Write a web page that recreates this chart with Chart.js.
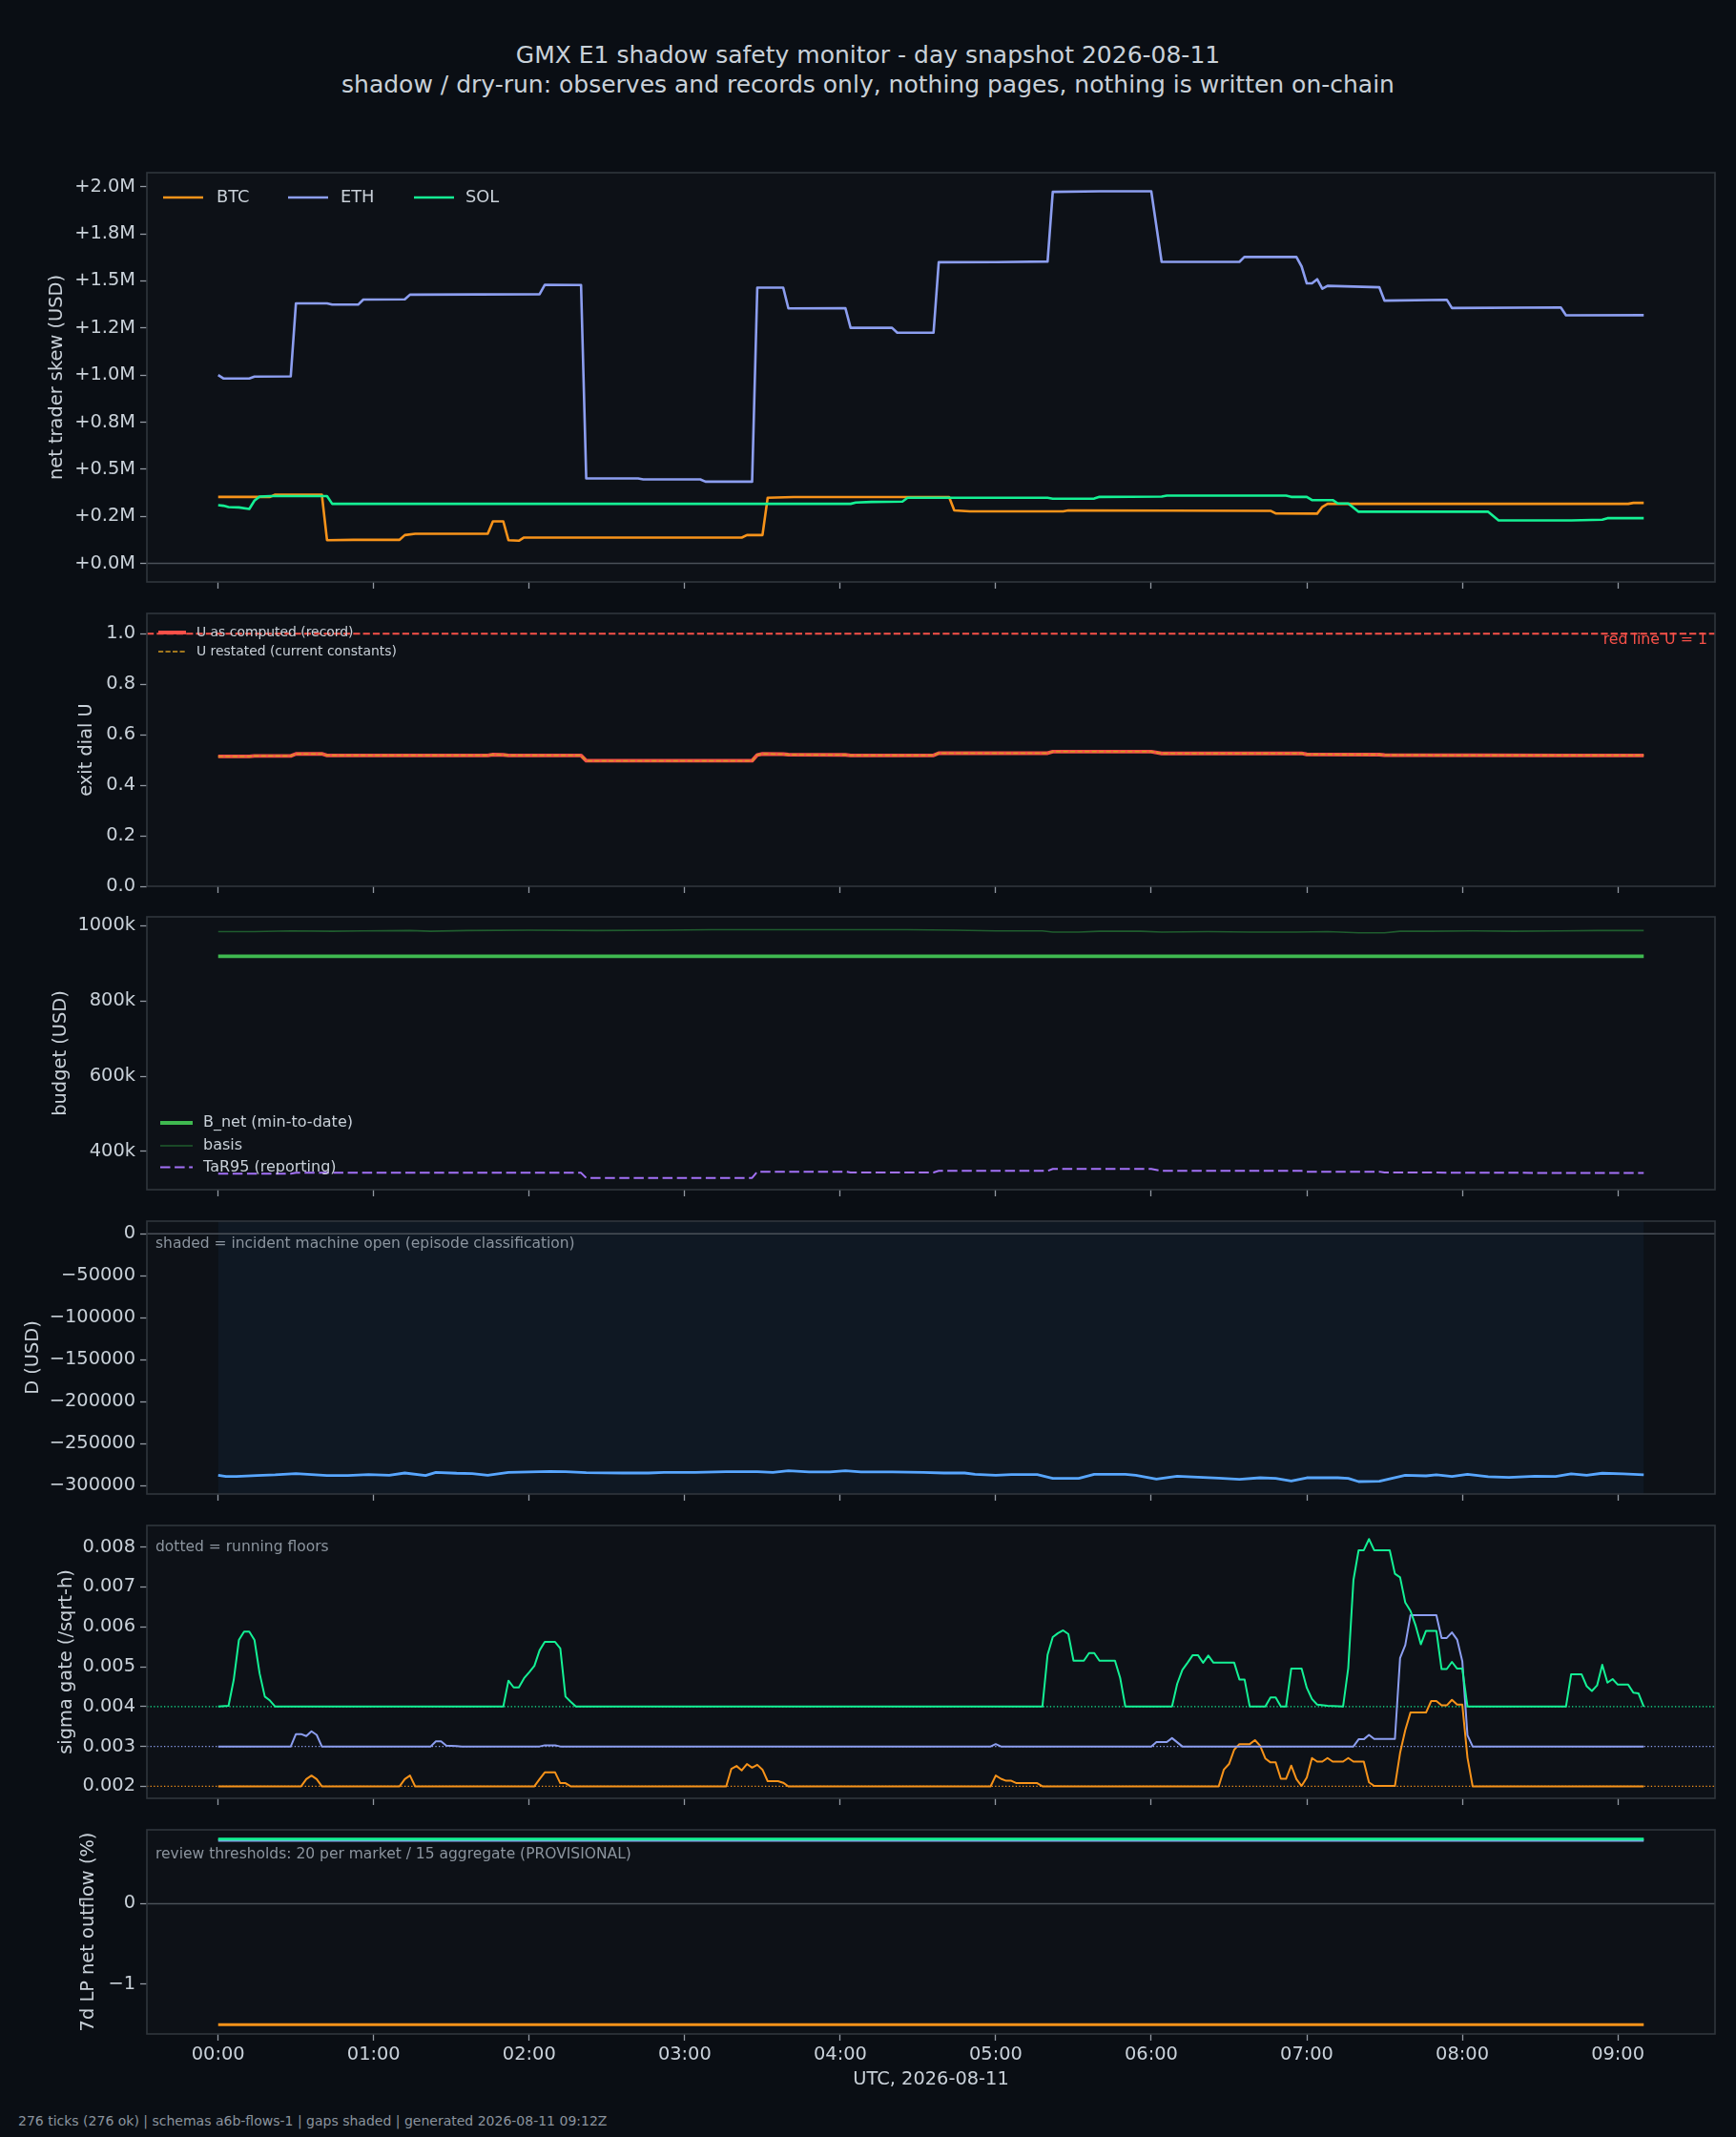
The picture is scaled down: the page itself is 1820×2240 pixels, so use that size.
<!DOCTYPE html>
<html>
<head>
<meta charset="utf-8">
<script src="https://cdn.jsdelivr.net/npm/chart.js@4.4.1/dist/chart.umd.min.js"></script>
<style>
  html, body { margin: 0; padding: 0; background: #0a0e14; }
  #page { position: relative; width: 1820px; height: 2240px; overflow: hidden; font-family: "DejaVu Sans", sans-serif; }
  #page canvas { position: absolute; left: 0; }
  .title { position: absolute; left: 0; top: 42px; width: 1820px; text-align: center; color: #c9d1d9; font-size: 25px; line-height: 31px; }
  .foot { position: absolute; left: 19px; top: 2215px; color: #8b949e; font-size: 14px; line-height: 17px; }
</style>
</head>
<body>
<div id="page">
  <div class="title">GMX E1 shadow safety monitor - day snapshot 2026-08-11<br>shadow / dry-run: observes and records only, nothing pages, nothing is written on-chain</div>
  <div class="foot">276 ticks (276 ok) | schemas a6b-flows-1 | gaps shaded | generated 2026-08-11 09:12Z</div>
</div>
<script>
// ---- data (x = minutes after 00:00 UTC, one tick every 2 min) ----
const X_TICKS = [0, 60, 120, 180, 240, 300, 360, 420, 480, 540];
const X_LABELS = ['00:00', '01:00', '02:00', '03:00', '04:00', '05:00', '06:00', '07:00', '08:00', '09:00'];
const X_TITLE = 'UTC, 2026-08-11';

// net trader skew, USD
const BTC_SKEW = [[0,353000],[20,353000],[22,365000],[40,365000],[42,123000],[52,125000],[70,125000],[72,150000],[76,157000],[104,157000],[106,223000],[110,223000],[112,123000],[116,120000],[118,137000],[202,137000],[204,150000],[210,150000],[212,348000],[222,352000],[282,352000],[284,281000],[290,276000],[326,276000],[328,281000],[406,279000],[408,265000],[424,264000],[426,300000],[428,316000],[544,316000],[546,321000],[550,321000]];
const ETH_SKEW = [[0,1000000],[2,982000],[12,982000],[14,992000],[28,993000],[30,1381000],[42,1381000],[44,1374000],[54,1374000],[56,1401000],[72,1402000],[74,1427000],[100,1428000],[124,1429000],[126,1479000],[140,1478000],[142,451000],[162,451000],[164,446000],[186,446000],[188,434000],[206,434000],[208,1464000],[218,1464000],[220,1354000],[242,1355000],[244,1251000],[260,1251000],[262,1225000],[276,1225000],[278,1599000],[300,1600000],[320,1603000],[322,1973000],[340,1976000],[360,1976000],[364,1601000],[394,1601000],[396,1628000],[416,1627000],[418,1577000],[420,1487000],[422,1487000],[424,1509000],[426,1459000],[428,1474000],[448,1466000],[450,1395000],[474,1400000],[476,1356000],[518,1359000],[520,1317000],[550,1318000]];
const SOL_SKEW = [[0,309000],[2,306000],[4,299000],[8,297000],[12,289000],[14,333000],[16,355000],[20,357000],[42,357000],[44,316000],[244,316000],[246,323000],[252,326000],[264,328000],[266,348000],[320,348000],[322,343000],[338,344000],[340,353000],[364,355000],[366,360000],[412,360000],[414,353000],[420,353000],[422,336000],[430,336000],[432,318000],[436,318000],[440,274000],[490,274000],[494,228000],[522,228000],[534,232000],[536,240000],[550,240000]];
const SKEW_TICKS = [0, 250000, 500000, 750000, 1000000, 1250000, 1500000, 1750000, 2000000];
const SKEW_LABELS = ['+0.0M', '+0.2M', '+0.5M', '+0.8M', '+1.0M', '+1.2M', '+1.5M', '+1.8M', '+2.0M'];

// exit dial U (computed and restated agree)
const U_DIAL = [[0,0.514],[12,0.514],[14,0.516],[28,0.516],[30,0.524],[40,0.524],[42,0.518],[104,0.518],[106,0.521],[110,0.520],[112,0.518],[140,0.518],[142,0.497],[206,0.497],[208,0.520],[210,0.524],[218,0.523],[220,0.521],[242,0.520],[244,0.518],[276,0.518],[278,0.527],[320,0.527],[322,0.533],[360,0.533],[364,0.526],[418,0.526],[420,0.522],[448,0.521],[450,0.519],[520,0.518],[550,0.518]];
const U_RED_LINE = 1.0;
const U_TICKS = [0, 0.2, 0.4, 0.6, 0.8, 1.0];
const U_LABELS = ['0.0', '0.2', '0.4', '0.6', '0.8', '1.0'];

// budget, USD
const B_NET = [[0,919000],[550,919000]];
const BASIS = [[0,984500],[14,984500],[28,986500],[44,985500],[56,986500],[74,987500],[82,985500],[96,987500],[120,988500],[146,987500],[172,988500],[190,989600],[240,989600],[266,989600],[284,988500],[300,986500],[318,986500],[322,983500],[332,983500],[340,985500],[356,985500],[364,983500],[382,984500],[398,983500],[416,983500],[428,984500],[440,981400],[450,981400],[456,985500],[468,985500],[484,986500],[500,985500],[518,986500],[532,987500],[550,987500]];
const TAR95 = [[0,340500],[28,340500],[30,342800],[140,342800],[142,329300],[206,329300],[208,345900],[242,345900],[244,343800],[276,343800],[278,348000],[320,348000],[322,353200],[360,353200],[364,348000],[418,348000],[420,345900],[448,345900],[450,343800],[500,342800],[550,342300]];
const BUDGET_TICKS = [400000, 600000, 800000, 1000000];
const BUDGET_LABELS = ['400k', '600k', '800k', '1000k'];

// D, USD; incident machine open over the whole window
const D_USD = [[0,-287600],[3,-289100],[7,-289100],[15,-288000],[22,-287200],[30,-285700],[36,-286900],[42,-288000],[50,-288000],[58,-286900],[66,-287600],[72,-285000],[80,-288000],[84,-284200],[92,-285300],[98,-285700],[104,-287600],[112,-284200],[120,-283800],[128,-283100],[134,-283500],[142,-284600],[156,-285000],[166,-285000],[172,-284200],[184,-284200],[196,-283500],[208,-283500],[214,-284200],[220,-282300],[228,-283800],[236,-283800],[242,-282300],[248,-283800],[260,-283800],[272,-284200],[280,-285000],[288,-285000],[292,-286500],[300,-287600],[306,-286900],[316,-286900],[322,-291400],[332,-291400],[338,-286500],[350,-286500],[354,-287600],[362,-292200],[370,-288800],[378,-289900],[386,-291000],[394,-292500],[402,-290700],[408,-291400],[414,-294400],[420,-290700],[432,-290700],[436,-291400],[440,-295200],[448,-294800],[458,-287600],[466,-288400],[470,-287200],[476,-289100],[482,-286500],[490,-289500],[498,-290300],[508,-288800],[516,-289100],[522,-286100],[528,-287600],[534,-285300],[542,-286100],[550,-287200]];
const INCIDENT_OPEN = [0, 550];
const D_TICKS = [-300000, -250000, -200000, -150000, -100000, -50000, 0];
const D_LABELS = ['\u2212300000', '\u2212250000', '\u2212200000', '\u2212150000', '\u2212100000', '\u221250000', '0'];

// sigma gate (/sqrt-h)
const BTC_SIGMA = [[0,0.0020],[32,0.0020],[34,0.00218],[36,0.00227],[38,0.00218],[40,0.0020],[70,0.0020],[72,0.00218],[74,0.00227],[76,0.0020],[122,0.0020],[124,0.00218],[126,0.00235],[130,0.00235],[132,0.00208],[134,0.00208],[136,0.0020],[196,0.0020],[198,0.00244],[200,0.00251],[202,0.00240],[204,0.00256],[206,0.00247],[208,0.00254],[210,0.00242],[212,0.00213],[216,0.00213],[218,0.00209],[220,0.0020],[298,0.0020],[300,0.00227],[302,0.00219],[304,0.00214],[306,0.00214],[308,0.00208],[316,0.00208],[318,0.0020],[386,0.0020],[388,0.00242],[390,0.00256],[392,0.00292],[394,0.00306],[398,0.00306],[400,0.00316],[402,0.00302],[404,0.00270],[406,0.00260],[408,0.00260],[410,0.00219],[412,0.00219],[414,0.00252],[416,0.00218],[418,0.00201],[420,0.00222],[422,0.00271],[424,0.00262],[426,0.00262],[428,0.00271],[430,0.00262],[434,0.00262],[436,0.00271],[438,0.00262],[442,0.00262],[444,0.00210],[446,0.00201],[454,0.00201],[456,0.00284],[458,0.00341],[460,0.00385],[466,0.00385],[468,0.00414],[470,0.00414],[472,0.00403],[474,0.00403],[476,0.00417],[478,0.00405],[480,0.00405],[482,0.00272],[484,0.0020],[550,0.0020]];
const ETH_SIGMA = [[0,0.0030],[28,0.0030],[30,0.00331],[32,0.00331],[34,0.00326],[36,0.00338],[38,0.00329],[40,0.0030],[82,0.0030],[84,0.00313],[86,0.00313],[88,0.00302],[92,0.00301],[94,0.0030],[124,0.0030],[126,0.00303],[130,0.00303],[132,0.0030],[298,0.0030],[300,0.00306],[302,0.0030],[360,0.0030],[362,0.00311],[366,0.00311],[368,0.00321],[372,0.0030],[438,0.0030],[440,0.00318],[442,0.00318],[444,0.00329],[446,0.00319],[454,0.00319],[456,0.00522],[458,0.00554],[460,0.00629],[470,0.00629],[472,0.00572],[474,0.00572],[476,0.00586],[478,0.00568],[480,0.00514],[482,0.00328],[484,0.0030],[550,0.0030]];
const SOL_SIGMA = [[0,0.0040],[4,0.00402],[6,0.00467],[8,0.00567],[10,0.00588],[12,0.00588],[14,0.00567],[16,0.00483],[18,0.00425],[20,0.00415],[22,0.0040],[110,0.0040],[112,0.00465],[114,0.00448],[116,0.00448],[118,0.00471],[120,0.00486],[122,0.00502],[124,0.00541],[126,0.00562],[130,0.00562],[132,0.00546],[134,0.00425],[136,0.00412],[138,0.0040],[318,0.0040],[320,0.00530],[322,0.00574],[324,0.00584],[326,0.00591],[328,0.00582],[330,0.00515],[334,0.00515],[336,0.00534],[338,0.00534],[340,0.00515],[346,0.00515],[348,0.00472],[350,0.0040],[368,0.0040],[370,0.00457],[372,0.00492],[374,0.00510],[376,0.00529],[378,0.00529],[380,0.00510],[382,0.00528],[384,0.00510],[392,0.00510],[394,0.00468],[396,0.00468],[398,0.0040],[404,0.0040],[406,0.00423],[408,0.00423],[410,0.0040],[412,0.0040],[414,0.00495],[418,0.00495],[420,0.00447],[422,0.00419],[424,0.00405],[428,0.00402],[434,0.0040],[436,0.00497],[438,0.00717],[440,0.00792],[442,0.00792],[444,0.00820],[446,0.00792],[452,0.00792],[454,0.00733],[456,0.00724],[458,0.00661],[460,0.00640],[462,0.00603],[464,0.00556],[466,0.00590],[470,0.00590],[472,0.00494],[474,0.00494],[476,0.00512],[478,0.00495],[480,0.00495],[482,0.0040],[520,0.0040],[522,0.00481],[526,0.00481],[528,0.00451],[530,0.00439],[532,0.00453],[534,0.00505],[536,0.00460],[538,0.00469],[540,0.00455],[544,0.00455],[546,0.00435],[548,0.00433],[550,0.0040]];
const SIGMA_FLOORS = [0.002, 0.003, 0.004]; // BTC, ETH, SOL
const SIGMA_TICKS = [0.002, 0.003, 0.004, 0.005, 0.006, 0.007, 0.008];
const SIGMA_LABELS = ['0.002', '0.003', '0.004', '0.005', '0.006', '0.007', '0.008'];

// 7d LP net outflow, %
const BTC_OUTFLOW = [[0,-1.5],[550,-1.5]];
const ETH_OUTFLOW = [[0,0.785],[550,0.785]];
const SOL_OUTFLOW = [[0,0.80],[550,0.80]];
const OUTFLOW_TICKS = [-1, 0];
const OUTFLOW_LABELS = ['\u22121', '0'];

// ---- styling ----
const FONT = '"DejaVu Sans", sans-serif';
const TXT = '#c9d1d9', MUTED = '#8b949e', TICK = '#9198a1', SPINE = '#30363d', AX_BG = '#0d1117', ZERO = '#4a5058';
const C_BTC = '#f7931a', C_ETH = '#8c9ef0', C_SOL = '#14f195';
const AXIS_RIGHT_EDGE = 154;
const X_MIN = -27.5, X_MAX = 577.5;

function line(label, pts, color, width, dash) {
    return {
        label: label,
        data: pts.map(p => ({ x: p[0], y: p[1] })),
        borderColor: color,
        borderWidth: width,
        borderDash: dash || [],
        pointRadius: 0,
        fill: false,
    };
}

// plot background, spans, reference lines, frame, in-axes legend and notes
const deco = {
    id: 'deco',
    beforeDraw(chart, args, o) {
        const { ctx, chartArea: a } = chart;
        ctx.save();
        ctx.fillStyle = AX_BG;
        ctx.fillRect(a.left, a.top, a.right - a.left, a.bottom - a.top);
        (o.spans || []).forEach(s => {
            const x0 = chart.scales.x.getPixelForValue(s.from);
            const x1 = chart.scales.x.getPixelForValue(s.to);
            ctx.fillStyle = s.color;
            ctx.fillRect(x0, a.top, x1 - x0, a.bottom - a.top);
        });
        ctx.restore();
    },
    beforeDatasetsDraw(chart, args, o) {
        const { ctx, chartArea: a } = chart;
        ctx.save();
        (o.hlines || []).forEach(h => {
            const y = chart.scales.y.getPixelForValue(h.y);
            ctx.strokeStyle = h.color;
            ctx.lineWidth = h.width;
            ctx.setLineDash(h.dash || []);
            ctx.beginPath();
            ctx.moveTo(a.left, y);
            ctx.lineTo(a.right, y);
            ctx.stroke();
        });
        ctx.restore();
    },
    afterDatasetsDraw(chart, args, o) {
        const { ctx, chartArea: a } = chart;
        const ds = chart.data.datasets;
        ctx.save();
        ctx.strokeStyle = SPINE;
        ctx.lineWidth = 1.6;
        ctx.setLineDash([]);
        ctx.strokeRect(a.left, a.top, a.right - a.left, a.bottom - a.top);

        if (o.legend) {
            const L = o.legend;
            ctx.font = L.size + 'px ' + FONT;
            ctx.textBaseline = 'middle';
            ctx.textAlign = 'left';
            L.items.forEach(it => {
                const d = ds[it.ds];
                const y = a.top + it.dy;
                ctx.strokeStyle = d.borderColor;
                ctx.lineWidth = d.borderWidth;
                ctx.setLineDash(d.borderDash || []);
                ctx.beginPath();
                ctx.moveTo(a.left + it.dx, y);
                ctx.lineTo(a.left + it.dx + L.len, y);
                ctx.stroke();
                ctx.fillStyle = TXT;
                ctx.fillText(d.label, a.left + it.tx, y);
            });
        }
        (o.notes || []).forEach(n => {
            ctx.font = n.size + 'px ' + FONT;
            ctx.fillStyle = n.color;
            ctx.textBaseline = 'middle';
            ctx.textAlign = n.right ? 'right' : 'left';
            const x = n.right ? a.right - n.dx : a.left + n.dx;
            ctx.fillText(n.text, x, a.top + n.dy);
        });
        ctx.restore();
    }
};

const page = document.getElementById('page');

function makePanel(p) {
    const cv = document.createElement('canvas');
    // room above/below the plot area, larger than half a tick label so
    // Chart.js does not pull the plot area in
    const below = p.lastPanel ? 60 : 20;
    const padTop = 20;
    cv.width = 1820;
    cv.height = p.bottom - p.top + padTop + below;
    cv.style.top = (p.top - padTop) + 'px';
    page.appendChild(cv);

    const padLeft = p.titleX - 19.4 * 1.2 / 2;
    const n = p.datasets.length;
    p.datasets.forEach((d, i) => { d.order = n - i; });

    new Chart(cv, {
        type: 'line',
        data: { datasets: p.datasets },
        options: {
            responsive: false,
            animation: false,
            devicePixelRatio: 1,
            layout: { padding: { left: padLeft, right: 22, top: padTop, bottom: 0 } },
            elements: { point: { radius: 0 }, line: { tension: 0, borderJoinStyle: 'round' } },
            plugins: {
                legend: { display: false },
                tooltip: { enabled: false },
                deco: p.deco || {},
            },
            scales: {
                x: {
                    type: 'linear',
                    min: X_MIN,
                    max: X_MAX,
                    afterBuildTicks: s => { s.ticks = X_TICKS.map(v => ({ value: v })); },
                    afterFit: s => { s.height = below; },
                    grid: { drawOnChartArea: false, drawTicks: true, tickLength: 7, tickColor: TICK, tickWidth: 1.3 },
                    border: { display: false },
                    ticks: {
                        display: !!p.lastPanel,
                        autoSkip: false,
                        maxRotation: 0,
                        color: TXT,
                        padding: 3,
                        font: { size: 19.4, family: FONT },
                        callback: (v, i) => X_LABELS[i],
                    },
                    title: {
                        display: !!p.lastPanel,
                        text: X_TITLE,
                        color: TXT,
                        padding: 0,
                        font: { size: 19.4, family: FONT },
                    },
                },
                y: {
                    type: 'linear',
                    min: p.yMin,
                    max: p.yMax,
                    afterBuildTicks: s => { s.ticks = p.yTicks.map(v => ({ value: v })); },
                    afterFit: s => { s.width = AXIS_RIGHT_EDGE - padLeft; },
                    grid: { drawOnChartArea: false, drawTicks: true, tickLength: 7, tickColor: TICK, tickWidth: 1.3 },
                    border: { display: false },
                    ticks: {
                        color: TXT,
                        padding: 5,
                        font: { size: 19.4, family: FONT },
                        callback: (v, i) => p.yLabels[i],
                    },
                    title: {
                        display: true,
                        text: p.yTitle,
                        color: TXT,
                        padding: 0,
                        font: { size: 19.4, family: FONT },
                    },
                },
            },
        },
        plugins: [deco],
    });
}

// 1. net trader skew
makePanel({
    top: 181, bottom: 610, titleX: 60.4,
    yTitle: 'net trader skew (USD)', yMin: -98800, yMax: 2074800,
    yTicks: SKEW_TICKS, yLabels: SKEW_LABELS,
    datasets: [
        line('BTC', BTC_SKEW, C_BTC, 2.6),
        line('ETH', ETH_SKEW, C_ETH, 2.6),
        line('SOL', SOL_SKEW, C_SOL, 2.6),
    ],
    deco: {
        hlines: [{ y: 0, color: ZERO, width: 1.5 }],
        legend: { size: 17.8, len: 42, items: [
            { ds: 0, dx: 17, tx: 73, dy: 26 },
            { ds: 1, dx: 148, tx: 203, dy: 26 },
            { ds: 2, dx: 280, tx: 334, dy: 26 },
        ] },
    },
});

// 2. exit dial U
makePanel({
    top: 643, bottom: 929, titleX: 90.5,
    yTitle: 'exit dial U', yMin: 0, yMax: 1.08,
    yTicks: U_TICKS, yLabels: U_LABELS,
    datasets: [
        line('U as computed (record)', U_DIAL, '#f85149', 3.9),
        line('U restated (current constants)', U_DIAL, '#d29922', 1.5, [5.2, 2.3]),
    ],
    deco: {
        hlines: [{ y: U_RED_LINE, color: '#f85149', width: 2, dash: [7.2, 3.1] }],
        legend: { size: 13.9, len: 29, items: [
            { ds: 0, dx: 12, tx: 52, dy: 20 },
            { ds: 1, dx: 12, tx: 52, dy: 40 },
        ] },
        notes: [{ text: 'red line U = 1', color: '#f85149', size: 15.8, right: true, dx: 8, dy: 28 }],
    },
});

// 3. budget
makePanel({
    top: 961, bottom: 1247, titleX: 63.8,
    yTitle: 'budget (USD)', yMin: 298000, yMax: 1024000,
    yTicks: BUDGET_TICKS, yLabels: BUDGET_LABELS,
    datasets: [
        line('B_net (min-to-date)', B_NET, '#3fb950', 3.8),
        line('basis', BASIS, '#1f5c2e', 1.6),
        line('TaR95 (reporting)', TAR95, '#a371f7', 2, [10.5, 4.6]),
    ],
    deco: {
        legend: { size: 16, len: 34, items: [
            { ds: 0, dx: 14, tx: 59, dy: 216 },
            { ds: 1, dx: 14, tx: 59, dy: 240 },
            { ds: 2, dx: 14, tx: 59, dy: 262.5 },
        ] },
    },
});

// 4. D
makePanel({
    top: 1280, bottom: 1566, titleX: 34.8,
    yTitle: 'D (USD)', yMin: -310000, yMax: 15000,
    yTicks: D_TICKS, yLabels: D_LABELS,
    datasets: [
        line('D', D_USD, '#58a6ff', 2.8),
    ],
    deco: {
        spans: [{ from: INCIDENT_OPEN[0], to: INCIDENT_OPEN[1], color: 'rgba(56,139,253,0.055)' }],
        hlines: [{ y: 0, color: ZERO, width: 1.5 }],
        notes: [{ text: 'shaded = incident machine open (episode classification)', color: MUTED, size: 15.5, dx: 9, dy: 24 }],
    },
});

// 5. sigma gate
makePanel({
    top: 1599, bottom: 1885, titleX: 69.6,
    yTitle: 'sigma gate (/sqrt-h)', yMin: 0.0017, yMax: 0.00854,
    yTicks: SIGMA_TICKS, yLabels: SIGMA_LABELS,
    datasets: [
        line('BTC', BTC_SIGMA, C_BTC, 2),
        line('ETH', ETH_SIGMA, C_ETH, 2),
        line('SOL', SOL_SIGMA, C_SOL, 2),
    ],
    deco: {
        hlines: [
            { y: SIGMA_FLOORS[0], color: C_BTC, width: 1.3, dash: [1.3, 2.3] },
            { y: SIGMA_FLOORS[1], color: C_ETH, width: 1.3, dash: [1.3, 2.3] },
            { y: SIGMA_FLOORS[2], color: C_SOL, width: 1.3, dash: [1.3, 2.3] },
        ],
        notes: [{ text: 'dotted = running floors', color: MUTED, size: 15.5, dx: 9, dy: 23 }],
    },
});

// 6. 7d LP net outflow
makePanel({
    top: 1918, bottom: 2132, titleX: 92.9, lastPanel: true,
    yTitle: '7d LP net outflow (%)', yMin: -1.615, yMax: 0.915,
    yTicks: OUTFLOW_TICKS, yLabels: OUTFLOW_LABELS,
    datasets: [
        line('BTC', BTC_OUTFLOW, C_BTC, 2.8),
        line('ETH', ETH_OUTFLOW, C_ETH, 2.8),
        line('SOL', SOL_OUTFLOW, C_SOL, 2.8),
    ],
    deco: {
        hlines: [{ y: 0, color: ZERO, width: 1.5 }],
        notes: [{ text: 'review thresholds: 20 per market / 15 aggregate (PROVISIONAL)', color: MUTED, size: 15.5, dx: 9, dy: 26 }],
    },
});
</script>
</body>
</html>
